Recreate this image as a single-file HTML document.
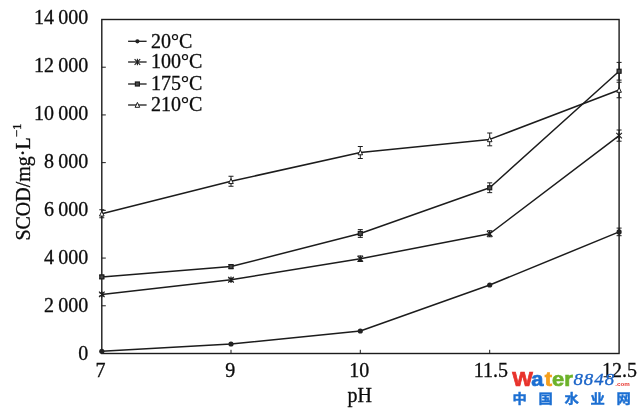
<!DOCTYPE html>
<html><head><meta charset="utf-8"><title>SCOD vs pH</title>
<style>
html,body{margin:0;padding:0;background:#fff;}
body{width:640px;height:415px;overflow:hidden;}
svg{display:block;}
text{font-family:"Liberation Serif","Noto Serif CJK SC",serif;fill:#0c0c0c;stroke:#0c0c0c;stroke-width:0.3;}
.wm{font-family:"Liberation Sans","Noto Sans CJK SC",sans-serif;font-weight:bold;stroke:none;}
</style></head><body>
<svg width="640" height="415" viewBox="0 0 640 415">
<rect width="640" height="415" fill="#fff"/>

<rect x="101.8" y="19.5" width="517.3" height="334" fill="none" stroke="#1c1c1c" stroke-width="1.4"/>
<text x="88.3" y="23.60" font-size="20" text-anchor="end" style="word-spacing:-0.7px">14 000</text>
<line x1="101.8" y1="67.21" x2="105.8" y2="67.21" stroke="#1c1c1c" stroke-width="1"/>
<text x="88.3" y="71.65" font-size="20" text-anchor="end" style="word-spacing:-0.7px">12 000</text>
<line x1="101.8" y1="114.93" x2="105.8" y2="114.93" stroke="#1c1c1c" stroke-width="1"/>
<text x="88.3" y="119.70" font-size="20" text-anchor="end" style="word-spacing:-0.7px">10 000</text>
<line x1="101.8" y1="162.64" x2="105.8" y2="162.64" stroke="#1c1c1c" stroke-width="1"/>
<text x="88.3" y="167.75" font-size="20" text-anchor="end" style="word-spacing:-0.7px">8 000</text>
<line x1="101.8" y1="210.36" x2="105.8" y2="210.36" stroke="#1c1c1c" stroke-width="1"/>
<text x="88.3" y="215.80" font-size="20" text-anchor="end" style="word-spacing:-0.7px">6 000</text>
<line x1="101.8" y1="258.07" x2="105.8" y2="258.07" stroke="#1c1c1c" stroke-width="1"/>
<text x="88.3" y="263.85" font-size="20" text-anchor="end" style="word-spacing:-0.7px">4 000</text>
<line x1="101.8" y1="305.79" x2="105.8" y2="305.79" stroke="#1c1c1c" stroke-width="1"/>
<text x="88.3" y="311.90" font-size="20" text-anchor="end" style="word-spacing:-0.7px">2 000</text>
<text x="88.3" y="360.45" font-size="20" text-anchor="end" style="word-spacing:-0.7px">0</text>
<text x="100.6" y="376.6" font-size="20" text-anchor="middle">7</text>
<line x1="231.0" y1="353.5" x2="231.0" y2="349.8" stroke="#1c1c1c" stroke-width="1"/>
<text x="230.2" y="376.6" font-size="20" text-anchor="middle">9</text>
<line x1="360.3" y1="353.5" x2="360.3" y2="349.8" stroke="#1c1c1c" stroke-width="1"/>
<text x="359.3" y="376.6" font-size="20" text-anchor="middle">10</text>
<line x1="489.7" y1="353.5" x2="489.7" y2="349.8" stroke="#1c1c1c" stroke-width="1"/>
<text x="491.0" y="376.6" font-size="20" text-anchor="middle">11.5</text>
<text x="619.6" y="376.6" font-size="20" text-anchor="middle">12.5</text>
<text x="359.7" y="401.9" font-size="20" text-anchor="middle">pH</text>
<text transform="translate(29.7,240.6) rotate(-90)" font-size="20">SCOD/mg·L<tspan font-size="13" dy="-8.5">−1</tspan></text>
<polyline points="101.8,351.25 231.0,344 360.3,331 489.7,285 619.1,231.9" fill="none" stroke="#1c1c1c" stroke-width="1.5" stroke-linejoin="round"/>
<polyline points="101.8,294.4 231.0,279.75 360.3,258.75 489.7,233.75 619.1,135.6" fill="none" stroke="#1c1c1c" stroke-width="1.5" stroke-linejoin="round"/>
<polyline points="101.8,276.9 231.0,266.6 360.3,233.5 489.7,187.75 619.1,71.25" fill="none" stroke="#1c1c1c" stroke-width="1.5" stroke-linejoin="round"/>
<polyline points="101.8,213.75 231.0,181.25 360.3,152.5 489.7,139.4 619.1,90" fill="none" stroke="#1c1c1c" stroke-width="1.5" stroke-linejoin="round"/>
<circle cx="101.8" cy="351.25" r="2.6" fill="#222"/>
<circle cx="231.0" cy="344" r="2.6" fill="#222"/>
<circle cx="360.3" cy="331" r="2.6" fill="#222"/>
<circle cx="489.7" cy="285" r="2.6" fill="#222"/>
<path d="M619.1,228.1L619.1,235.70000000000002M616.6,228.1L621.6,228.1M616.6,235.70000000000002L621.6,235.70000000000002" stroke="#1c1c1c" stroke-width="1" fill="none"/>
<circle cx="619.1" cy="231.9" r="2.6" fill="#222"/>
<path d="M101.8,292.9L101.8,295.9M99.3,292.9L104.3,292.9M99.3,295.9L104.3,295.9" stroke="#1c1c1c" stroke-width="1" fill="none"/>
<path d="M99.0,291.59999999999997L104.6,297.2M99.0,297.2L104.6,291.59999999999997M101.8,291.2L101.8,297.59999999999997" stroke="#1c1c1c" stroke-width="1.1" fill="none"/>
<path d="M231.0,278.25L231.0,281.25M228.5,278.25L233.5,278.25M228.5,281.25L233.5,281.25" stroke="#1c1c1c" stroke-width="1" fill="none"/>
<path d="M228.2,276.95L233.8,282.55M228.2,282.55L233.8,276.95M231.0,276.55L231.0,282.95" stroke="#1c1c1c" stroke-width="1.1" fill="none"/>
<path d="M360.3,256.0L360.3,261.5M357.8,256.0L362.8,256.0M357.8,261.5L362.8,261.5" stroke="#1c1c1c" stroke-width="1" fill="none"/>
<path d="M357.5,255.95L363.1,261.55M357.5,261.55L363.1,255.95M360.3,255.54999999999998L360.3,261.95" stroke="#1c1c1c" stroke-width="1.1" fill="none"/>
<path d="M489.7,230.75L489.7,236.75M487.2,230.75L492.2,230.75M487.2,236.75L492.2,236.75" stroke="#1c1c1c" stroke-width="1" fill="none"/>
<path d="M486.9,230.95L492.5,236.55M486.9,236.55L492.5,230.95M489.7,230.54999999999998L489.7,236.95000000000002" stroke="#1c1c1c" stroke-width="1.1" fill="none"/>
<path d="M619.1,130.0L619.1,141.2M616.6,130.0L621.6,130.0M616.6,141.2L621.6,141.2" stroke="#1c1c1c" stroke-width="1" fill="none"/>
<path d="M616.3000000000001,132.79999999999998L621.9,138.4M616.3000000000001,138.4L621.9,132.79999999999998M619.1,132.39999999999998L619.1,138.8" stroke="#1c1c1c" stroke-width="1.1" fill="none"/>
<path d="M101.8,275.4L101.8,278.4M99.3,275.4L104.3,275.4M99.3,278.4L104.3,278.4" stroke="#1c1c1c" stroke-width="1" fill="none"/>
<rect x="99.8" y="274.9" width="4.0" height="4.0" fill="#4a4a4a" stroke="#1c1c1c" stroke-width="1.2"/>
<path d="M231.0,264.6L231.0,268.6M228.5,264.6L233.5,264.6M228.5,268.6L233.5,268.6" stroke="#1c1c1c" stroke-width="1" fill="none"/>
<rect x="229.0" y="264.6" width="4.0" height="4.0" fill="#4a4a4a" stroke="#1c1c1c" stroke-width="1.2"/>
<path d="M360.3,229.6L360.3,237.4M357.8,229.6L362.8,229.6M357.8,237.4L362.8,237.4" stroke="#1c1c1c" stroke-width="1" fill="none"/>
<rect x="358.3" y="231.5" width="4.0" height="4.0" fill="#4a4a4a" stroke="#1c1c1c" stroke-width="1.2"/>
<path d="M489.7,182.85L489.7,192.65M487.2,182.85L492.2,182.85M487.2,192.65L492.2,192.65" stroke="#1c1c1c" stroke-width="1" fill="none"/>
<rect x="487.7" y="185.75" width="4.0" height="4.0" fill="#4a4a4a" stroke="#1c1c1c" stroke-width="1.2"/>
<path d="M619.1,62.4L619.1,80.1M616.6,62.4L621.6,62.4M616.6,80.1L621.6,80.1" stroke="#1c1c1c" stroke-width="1" fill="none"/>
<rect x="617.1" y="69.25" width="4.0" height="4.0" fill="#4a4a4a" stroke="#1c1c1c" stroke-width="1.2"/>
<path d="M101.8,209.75L101.8,217.75M99.3,209.75L104.3,209.75M99.3,217.75L104.3,217.75" stroke="#1c1c1c" stroke-width="1" fill="none"/>
<path d="M101.8,211.14999999999998L104.1,216.05L99.5,216.05Z" fill="#fff" stroke="#1c1c1c" stroke-width="1"/>
<path d="M231.0,176.25L231.0,186.25M228.5,176.25L233.5,176.25M228.5,186.25L233.5,186.25" stroke="#1c1c1c" stroke-width="1" fill="none"/>
<path d="M231.0,178.64999999999998L233.3,183.55L228.7,183.55Z" fill="#fff" stroke="#1c1c1c" stroke-width="1"/>
<path d="M360.3,146.5L360.3,158.5M357.8,146.5L362.8,146.5M357.8,158.5L362.8,158.5" stroke="#1c1c1c" stroke-width="1" fill="none"/>
<path d="M360.3,149.89999999999998L362.6,154.8L358.0,154.8Z" fill="#fff" stroke="#1c1c1c" stroke-width="1"/>
<path d="M489.7,133.0L489.7,145.8M487.2,133.0L492.2,133.0M487.2,145.8L492.2,145.8" stroke="#1c1c1c" stroke-width="1" fill="none"/>
<path d="M489.7,136.79999999999998L492.0,141.70000000000002L487.4,141.70000000000002Z" fill="#fff" stroke="#1c1c1c" stroke-width="1"/>
<path d="M619.1,82.25L619.1,97.75M616.6,82.25L621.6,82.25M616.6,97.75L621.6,97.75" stroke="#1c1c1c" stroke-width="1" fill="none"/>
<path d="M619.1,87.4L621.4,92.3L616.8000000000001,92.3Z" fill="#fff" stroke="#1c1c1c" stroke-width="1"/>
<line x1="128.1" y1="41.3" x2="146.6" y2="41.3" stroke="#1c1c1c" stroke-width="1.3"/>
<circle cx="137.4" cy="41.3" r="2.1" fill="#222"/>
<text x="151" y="47.5" font-size="20">20°C</text>
<line x1="128.1" y1="62" x2="146.6" y2="62" stroke="#1c1c1c" stroke-width="1.3"/>
<path d="M134.6,59.2L140.20000000000002,64.8M134.6,64.8L140.20000000000002,59.2M137.4,58.800000000000004L137.4,65.2" stroke="#1c1c1c" stroke-width="1.1" fill="none"/>
<text x="151" y="68" font-size="20">100°C</text>
<line x1="128.1" y1="84" x2="146.6" y2="84" stroke="#1c1c1c" stroke-width="1.3"/>
<rect x="135.4" y="82.0" width="4.0" height="4.0" fill="#4a4a4a" stroke="#1c1c1c" stroke-width="1.2"/>
<text x="151" y="89.6" font-size="20">175°C</text>
<line x1="128.1" y1="105" x2="146.6" y2="105" stroke="#1c1c1c" stroke-width="1.3"/>
<path d="M137.4,102.4L139.70000000000002,107.3L135.1,107.3Z" fill="#fff" stroke="#1c1c1c" stroke-width="1"/>
<text x="151" y="110.6" font-size="20">210°C</text>
<g>
<g transform="translate(512.2,385.5) scale(1.12,1)"><text x="0" y="0" font-size="19.5" class="wm" style="stroke-width:0.7"><tspan style="fill:#e8332c;stroke:#e8332c">W</tspan><tspan dx="-1.3" style="fill:#1c6fd2;stroke:#1c6fd2">a</tspan><tspan dx="1.2" style="fill:#f5a01e;stroke:#f5a01e">t</tspan><tspan style="fill:#6cb22a;stroke:#6cb22a">er</tspan></text></g>
<g transform="translate(573.4,385) scale(1.08,1)"><text x="0" y="0" font-size="17.5" font-style="italic" style="fill:#1c65c8;stroke:#1c65c8;stroke-width:0.35;letter-spacing:0.9px">8848</text></g>
<text x="615.3" y="386" font-size="6.2" class="wm" style="fill:#e8332c">.com</text>
<g transform="translate(512.6,402.5) scale(1.1,1)"><text x="0" y="0" font-size="13" class="wm" style="fill:#1c6fd2;stroke:#1c6fd2;stroke-width:0.4;letter-spacing:10.64px">中国水业网</text></g>
</g>

</svg></body></html>
